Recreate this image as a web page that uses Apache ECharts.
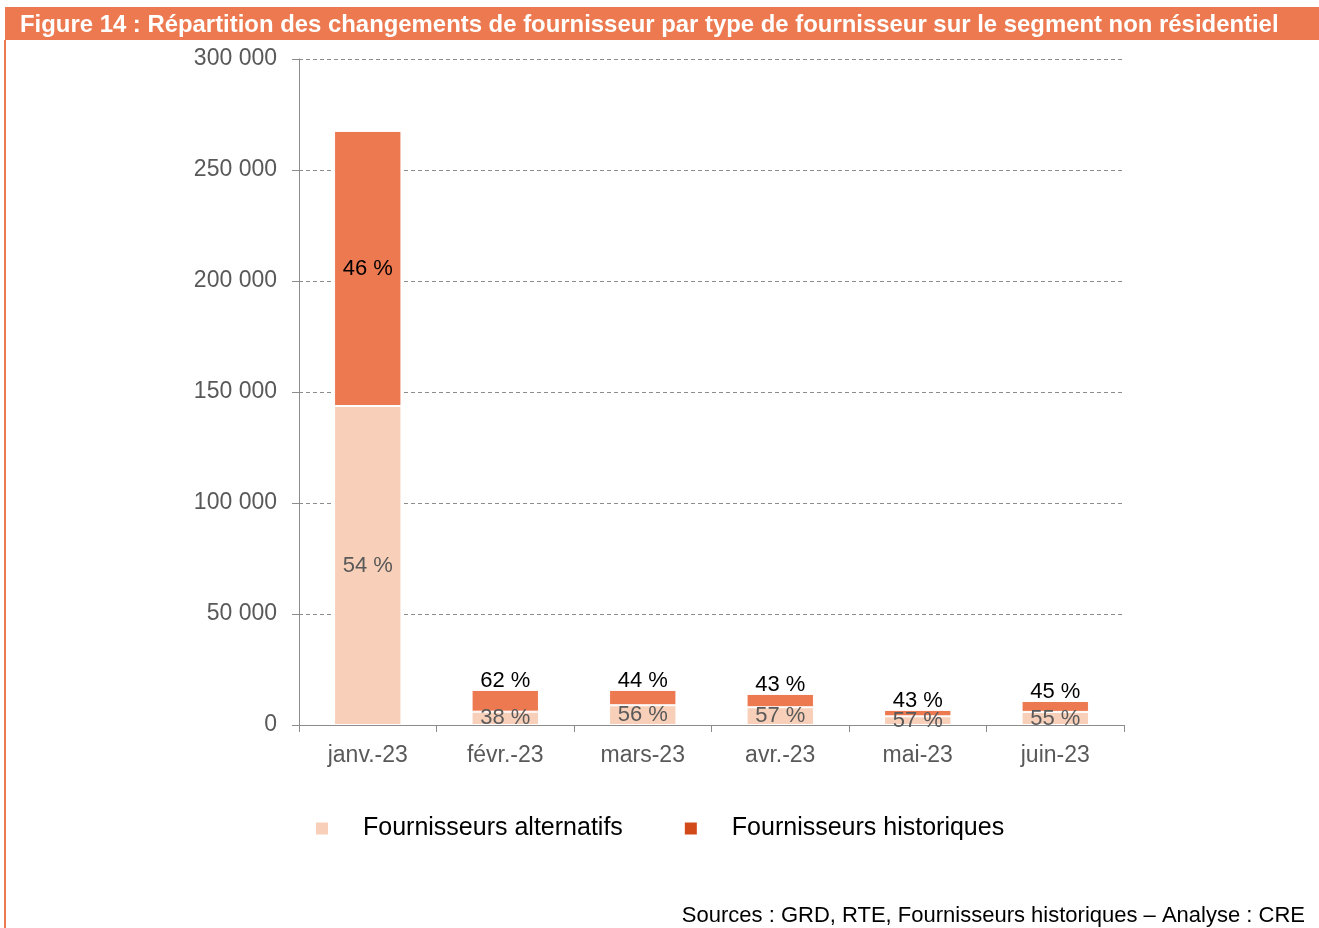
<!DOCTYPE html>
<html>
<head>
<meta charset="utf-8">
<script src="https://cdn.jsdelivr.net/npm/echarts@6/dist/echarts.min.js"></script>
<style>
  html, body { margin: 0; padding: 0; background: #fff; }
  #chart { width: 1319px; height: 928px; }
</style>
</head>
<body>
<div id="chart"></div>
<script>
// données
const months = ['janv.-23', 'févr.-23', 'mars-23', 'avr.-23', 'mai-23', 'juin-23']
const alternatifs = [143700, 6000, 8900, 8000, 3900, 5900]
const historiques = [123900, 9800, 6900, 6000, 2900, 4900]
const pctAlternatifs = [54, 38, 56, 57, 57, 55]
const pctHistoriques = [46, 62, 44, 43, 43, 45]

const font = '"Liberation Sans", Arial, sans-serif'
const orange = '#ED7950'

const chart = echarts.init(document.getElementById('chart'), null, {
  width: 1319,
  height: 928
})

chart.setOption({
  animation: false,
  graphic: [
    {
      type: 'rect',
      shape: { x: 5, y: 7, width: 1314, height: 33 },
      style: { fill: orange },
      silent: true
    },
    {
      type: 'rect',
      shape: { x: 4, y: 40, width: 2, height: 888 },
      style: { fill: orange },
      silent: true
    },
    {
      type: 'text',
      left: 20,
      top: 13,
      style: {
        text: 'Figure 14 : Répartition des changements de fournisseur par type de fournisseur sur le segment non résidentiel',
        fill: '#fff',
        font: 'bold 23.9px ' + font
      }
    },
    {
      type: 'text',
      right: 14,
      top: 905,
      style: {
        text: 'Sources : GRD, RTE, Fournisseurs historiques – Analyse : CRE',
        fill: '#000',
        font: '22px ' + font
      }
    }
  ],
  grid: {
    left: 299,
    right: 195,
    top: 59,
    bottom: 203
  },
  legend: {
    top: 811,
    left: 309,
    itemWidth: 14,
    itemHeight: 14,
    itemGap: 60,
    icon: 'rect',
    selectedMode: false,
    textStyle: {
      fontFamily: font,
      fontSize: 25,
      color: '#000',
      padding: [0, 0, 0, 29]
    },
    data: [
      { name: 'Fournisseurs alternatifs', itemStyle: { color: '#F8CFB8' } },
      { name: 'Fournisseurs historiques', itemStyle: { color: '#D24A1A' } }
    ]
  },
  xAxis: {
    type: 'category',
    data: months,
    axisLine: { lineStyle: { color: '#8c8c8c', width: 1 } },
    axisTick: { show: true, length: 7, lineStyle: { color: '#8c8c8c' } },
    axisLabel: {
      color: '#595959',
      fontFamily: font,
      fontSize: 23,
      margin: 19
    }
  },
  yAxis: {
    type: 'value',
    min: 0,
    max: 300000,
    interval: 50000,
    axisLine: { show: true, lineStyle: { color: '#8c8c8c', width: 1 } },
    axisTick: { show: true, length: 7, lineStyle: { color: '#8c8c8c' } },
    splitLine: { lineStyle: { color: '#8c8c8c', type: [4, 3], width: 1 } },
    axisLabel: {
      color: '#595959',
      fontFamily: font,
      fontSize: 23,
      margin: 22,
      padding: [3, 0, 0, 0],
      formatter: (v) => String(v).replace(/\B(?=(\d{3})+(?!\d))/g, ' ')
    }
  },
  series: [
    {
      name: 'Fournisseurs alternatifs',
      type: 'bar',
      stack: 'total',
      barWidth: '49%',
      itemStyle: { color: '#F8CFB8', borderColor: '#fff', borderWidth: 1 },
      label: {
        show: true,
        position: 'inside',
        color: '#595959',
        fontFamily: font,
        fontSize: 22,
        formatter: (p) => pctAlternatifs[p.dataIndex] + ' %'
      },
      data: alternatifs
    },
    {
      name: 'Fournisseurs historiques',
      type: 'bar',
      stack: 'total',
      barWidth: '49%',
      itemStyle: { color: orange, borderColor: '#fff', borderWidth: 1 },
      label: {
        show: true,
        position: 'top',
        distance: -2,
        color: '#000',
        fontFamily: font,
        fontSize: 22,
        formatter: (p) => pctHistoriques[p.dataIndex] + ' %'
      },
      data: historiques.map((v, i) => i === 0 ? { value: v, label: { position: 'inside' } } : v)
    }
  ]
})
</script>
</body>
</html>
